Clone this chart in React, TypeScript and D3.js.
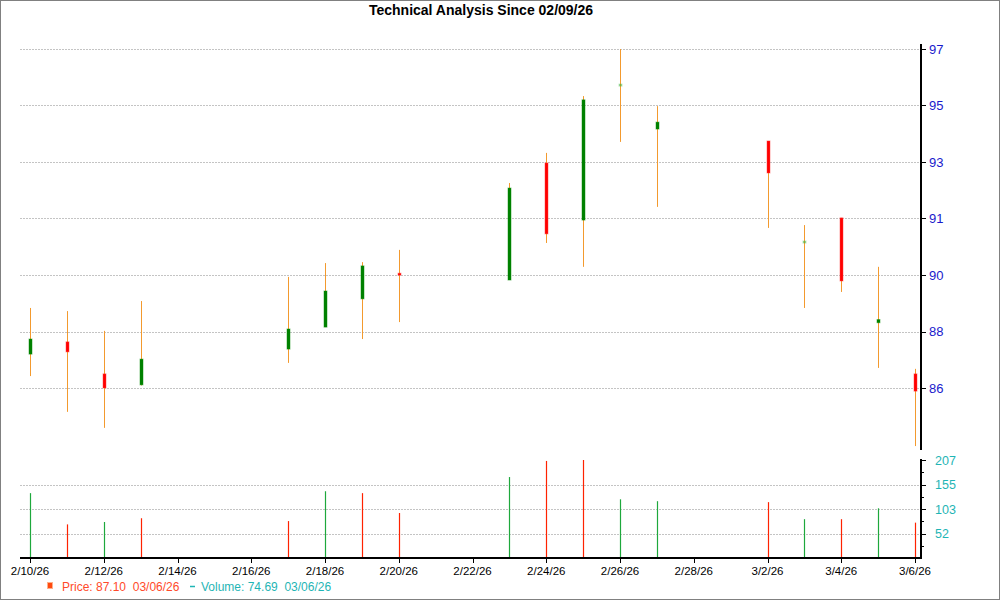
import React, { useRef, useEffect } from "react";
import * as d3 from "d3";

// daily OHLC since 02/09/26
const dates = [
  "2026-02-10", "2026-02-11", "2026-02-12", "2026-02-13", "2026-02-17", "2026-02-18",
  "2026-02-19", "2026-02-20", "2026-02-23", "2026-02-24", "2026-02-25", "2026-02-26",
  "2026-02-27", "2026-03-02", "2026-03-03", "2026-03-04", "2026-03-05", "2026-03-06",
];
const opens = [87.08, 87.47, 86.45, 86.1, 87.24, 87.94, 88.84, 89.65, 89.44, 93.17, 91.35, 95.63, 94.25, 93.87, 90.63, 91.42, 88.08, 86.45];
const highs = [88.55, 88.45, 87.82, 88.77, 89.54, 89.98, 90.01, 90.4, 92.53, 93.49, 95.3, 96.8, 94.98, 93.87, 91.19, 91.42, 89.86, 86.61];
const lows = [86.38, 85.24, 84.73, 86.08, 86.8, 87.94, 87.56, 88.1, 89.44, 90.62, 89.86, 93.84, 91.77, 91.1, 88.55, 89.06, 86.64, 84.15];
const closes = [87.56, 87.15, 86.0, 86.92, 87.88, 89.09, 89.89, 89.6, 92.37, 90.91, 95.18, 95.67, 94.47, 92.85, 90.67, 89.41, 88.18, 85.9];

// volume bars and their colour flag (true = green)
const volumes = [137, 71, 76, 84, 78, 141, 137, 95, 171, 205, 207, 124, 120, 118, 82, 82, 105, 74.69];
const volumeUp = [true, false, true, false, false, true, false, false, true, false, false, true, true, false, true, false, true, false];

// axes
const priceTicks = [86.0, 87.8, 89.6, 91.4, 93.2, 95.0, 96.8];
const priceTickLabels = ["86", "88", "90", "91", "93", "95", "97"];
const volumeTicks = [51.75, 103.5, 155.25, 207];
const volumeTickLabels = ["52", "103", "155", "207"];

const title = "Technical Analysis Since 02/09/26";
const legendPrice = "Price: 87.10  03/06/26";
const legendVolume = "Volume: 74.69  03/06/26";

const App = () => {
  const svgRef = useRef<SVGSVGElement>(null);

  useEffect(() => {
    if (!svgRef.current) return;
    const svg = d3.select(svgRef.current);
    svg.selectAll("*").remove();

    const width = 1000;
    const height = 600;
    const plotLeft = 20;
    const axisX = 921;
    const font = "'Liberation Sans', Arial, sans-serif";

    const parse = d3.utcParse("%Y-%m-%d");
    const days = dates.map((d) => parse(d) as Date);
    const start = parse("2026-02-10") as Date;
    const end = parse("2026-03-06") as Date;

    const x = d3.scaleUtc([start, end], [30, 915]);
    const y = d3.scaleLinear([86.0, 96.8], [388, 49]);
    const yv = d3.scaleLinear([0, 207], [558, 460]);

    svg.attr("viewBox", [0, 0, width, height]).attr("width", width).attr("height", height);

    svg
      .append("rect")
      .attr("x", 0.5)
      .attr("y", 0.5)
      .attr("width", width - 1)
      .attr("height", height - 1)
      .attr("fill", "#fff")
      .attr("stroke", "#808080");

    svg
      .append("text")
      .attr("x", 481)
      .attr("y", 15)
      .attr("text-anchor", "middle")
      .attr("font-family", font)
      .attr("font-weight", "bold")
      .attr("font-size", 14)
      .text(title);

    // gridlines
    const grid = svg.append("g").attr("stroke", "#c4c4c4").attr("stroke-dasharray", "2,1");
    grid
      .selectAll("line.p")
      .data(priceTicks)
      .join("line")
      .attr("class", "p")
      .attr("x1", plotLeft)
      .attr("x2", axisX)
      .attr("y1", (d) => Math.round(y(d)) + 0.5)
      .attr("y2", (d) => Math.round(y(d)) + 0.5);
    grid
      .selectAll("line.v")
      .data(volumeTicks.slice(0, 3))
      .join("line")
      .attr("class", "v")
      .attr("x1", plotLeft)
      .attr("x2", axisX)
      .attr("y1", (d) => Math.round(yv(d)) + 0.5)
      .attr("y2", (d) => Math.round(yv(d)) + 0.5);

    // candles
    const idx = d3.range(days.length);
    const bodyH = (i: number) => Math.abs(y(opens[i]) - y(closes[i]));
    const isDoji = (i: number) => bodyH(i) < 1.5;
    const candles = svg.append("g");
    candles
      .selectAll("line")
      .data(idx)
      .join("line")
      .attr("x1", (i) => Math.round(x(days[i])) + 0.5)
      .attr("x2", (i) => Math.round(x(days[i])) + 0.5)
      .attr("y1", (i) => y(highs[i]))
      .attr("y2", (i) => y(lows[i]))
      .attr("stroke", "#f39a2e")
      .attr("stroke-width", 1);
    candles
      .selectAll("rect")
      .data(idx)
      .join("rect")
      .attr("x", (i) => Math.round(x(days[i])) - 1)
      .attr("y", (i) => {
        const top = y(Math.max(opens[i], closes[i]));
        return bodyH(i) < 2 ? (top + y(Math.min(opens[i], closes[i]))) / 2 - 1 : top;
      })
      .attr("width", 3)
      .attr("height", (i) => Math.max(2, bodyH(i)))
      .attr("fill", (i) =>
        isDoji(i) ? "rgba(60,180,60,0.45)" : closes[i] >= opens[i] ? "#008000" : "#ff0000"
      )
      .attr("stroke", (i) =>
        isDoji(i)
          ? "rgba(60,180,60,0.3)"
          : closes[i] >= opens[i]
          ? "rgba(0,140,0,0.45)"
          : "rgba(255,60,60,0.45)"
      )
      .attr("stroke-width", 1);

    // volume
    svg
      .append("g")
      .selectAll("line")
      .data(idx)
      .join("line")
      .attr("x1", (i) => Math.round(x(days[i])) + 0.5)
      .attr("x2", (i) => Math.round(x(days[i])) + 0.5)
      .attr("y1", yv(0))
      .attr("y2", (i) => yv(volumes[i]))
      .attr("stroke", (i) => (volumeUp[i] ? "#1ea83c" : "#ff2200"))
      .attr("stroke-width", 1.2);

    // price axis
    const pAxis = svg.append("g");
    pAxis
      .append("line")
      .attr("x1", axisX)
      .attr("x2", axisX)
      .attr("y1", 44)
      .attr("y2", 450)
      .attr("stroke", "#000")
      .attr("stroke-width", 2);
    pAxis
      .selectAll("line.t")
      .data(priceTicks)
      .join("line")
      .attr("class", "t")
      .attr("x1", axisX)
      .attr("x2", axisX + 5)
      .attr("y1", (d) => Math.round(y(d)) + 0.5)
      .attr("y2", (d) => Math.round(y(d)) + 0.5)
      .attr("stroke", "#000");
    pAxis
      .selectAll("text")
      .data(priceTicks)
      .join("text")
      .attr("x", axisX + 8)
      .attr("y", (d) => y(d) + 4.5)
      .attr("font-family", font)
      .attr("font-size", 13)
      .attr("fill", "#1a1acc")
      .text((_, i) => priceTickLabels[i]);

    // volume axis
    const vAxis = svg.append("g");
    vAxis
      .append("line")
      .attr("x1", axisX)
      .attr("x2", axisX)
      .attr("y1", 459)
      .attr("y2", 559)
      .attr("stroke", "#000")
      .attr("stroke-width", 2);
    vAxis
      .selectAll("line.t")
      .data(d3.range(1, 9).map((k) => (207 * k) / 8))
      .join("line")
      .attr("class", "t")
      .attr("x1", axisX)
      .attr("x2", (_, k) => axisX + (k % 2 === 1 ? 5 : 3))
      .attr("y1", (d) => Math.round(yv(d)) + 0.5)
      .attr("y2", (d) => Math.round(yv(d)) + 0.5)
      .attr("stroke", "#000");
    vAxis
      .selectAll("text")
      .data(volumeTicks)
      .join("text")
      .attr("x", axisX + 14)
      .attr("y", (d) => yv(d) + 4.5)
      .attr("font-family", font)
      .attr("font-size", 12.5)
      .attr("fill", "#1fb5b5")
      .text((_, i) => volumeTickLabels[i]);

    // date axis
    const dateTicks = d3.range(0, 25, 2).map((k) => d3.utcDay.offset(start, k));
    const fmt = d3.utcFormat("%-m/%-d/%y");
    const xAxis = svg.append("g");
    xAxis
      .append("line")
      .attr("x1", plotLeft)
      .attr("x2", axisX + 1)
      .attr("y1", 558)
      .attr("y2", 558)
      .attr("stroke", "#000")
      .attr("stroke-width", 2);
    xAxis
      .selectAll("line.t")
      .data(dateTicks)
      .join("line")
      .attr("class", "t")
      .attr("x1", (d) => Math.round(x(d)) + 0.5)
      .attr("x2", (d) => Math.round(x(d)) + 0.5)
      .attr("y1", 558)
      .attr("y2", 563)
      .attr("stroke", "#000");
    xAxis
      .selectAll("text")
      .data(dateTicks)
      .join("text")
      .attr("x", (d) => x(d))
      .attr("y", 575)
      .attr("text-anchor", "middle")
      .attr("font-family", font)
      .attr("font-size", 11.5)
      .attr("fill", "#000")
      .text((d) => fmt(d));

    // legend
    const legend = svg.append("g").attr("font-family", font).attr("font-size", 12);
    legend
      .append("rect")
      .attr("x", 47.5)
      .attr("y", 582.5)
      .attr("width", 5)
      .attr("height", 6)
      .attr("fill", "#ff4a10")
      .attr("stroke", "#ffb08a");
    legend
      .append("text")
      .attr("x", 62)
      .attr("y", 591)
      .attr("fill", "#ff4a2a")
      .style("white-space", "pre")
      .text(legendPrice);
    legend
      .append("line")
      .attr("x1", 190)
      .attr("x2", 195)
      .attr("y1", 586.5)
      .attr("y2", 586.5)
      .attr("stroke", "#1fb5b5")
      .attr("stroke-width", 1.5);
    legend
      .append("text")
      .attr("x", 201)
      .attr("y", 591)
      .attr("fill", "#1fb5b5")
      .style("white-space", "pre")
      .text(legendVolume);
  }, []);

  return <svg ref={svgRef} style={{ position: "absolute", left: 0, top: 0 }}></svg>;
};

export default App;
